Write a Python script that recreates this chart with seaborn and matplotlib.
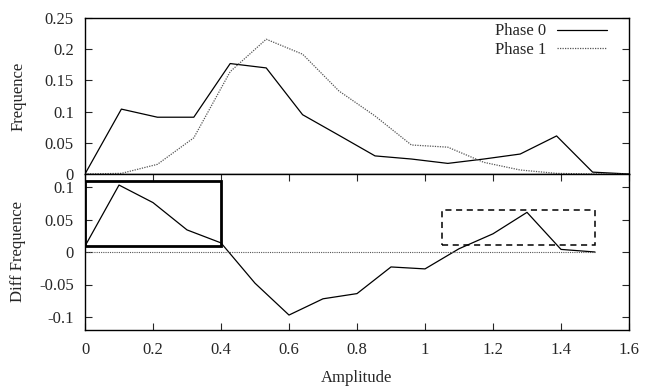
import matplotlib
matplotlib.use("Agg")
import matplotlib.pyplot as plt
import matplotlib.patches as patches
from matplotlib.ticker import FixedLocator, FixedFormatter
import seaborn as sns
import pandas as pd

sns.set_style("ticks")
plt.rcParams['font.family'] = ['Liberation Serif', 'DejaVu Serif']

# Top panel: frequency per amplitude bin
amp_phase = [0, 0.107, 0.213, 0.32, 0.427, 0.533, 0.64, 0.747, 0.853, 0.96,
             1.067, 1.173, 1.28, 1.387, 1.493, 1.6]
phase0 = [0, 0.104, 0.091, 0.091, 0.177, 0.170, 0.095, 0.062, 0.029, 0.024,
          0.017, 0.024, 0.032, 0.061, 0.003, 0]
phase1 = [0, 0.001, 0.0155, 0.058, 0.164, 0.216, 0.192, 0.133, 0.093, 0.0465,
          0.043, 0.0187, 0.0064, 0.001, 0, 0]

# Bottom panel: difference of frequencies
amp_diff = [0, 0.1, 0.2, 0.3, 0.4, 0.5, 0.6, 0.7, 0.8, 0.9, 1.0, 1.1, 1.2, 1.3, 1.4, 1.5]
diff = [0.009, 0.103, 0.076, 0.034, 0.014, -0.048, -0.097, -0.072, -0.064, -0.023,
        -0.026, 0.005, 0.028, 0.061, 0.004, 0.0]
zero_line = [0] * len(amp_diff)

# Highlight boxes (x0, x1, y0, y1)
box_solid = (0, 0.4, 0.01, 0.109)
box_dashed = (1.05, 1.5, 0.0103, 0.0646)

x_ticks = [0, 0.2, 0.4, 0.6, 0.8, 1, 1.2, 1.4, 1.6]
x_labels = ["0", "0.2", "0.4", "0.6", "0.8", "1", "1.2", "1.4", "1.6"]
top_ticks = [0, 0.05, 0.1, 0.15, 0.2, 0.25]
top_labels = ["0", "0.05", "0.1", "0.15", "0.2", "0.25"]
bot_ticks = [-0.1, -0.05, 0, 0.05, 0.1]
bot_labels = ["-0.1", "-0.05", "0", "0.05", "0.1"]

top_df = pd.DataFrame({"Amplitude": amp_phase * 2,
                       "Frequence": phase0 + phase1,
                       "serie": ["Phase 0"] * len(phase0) + ["Phase 1"] * len(phase1)})
diff_df = pd.DataFrame({"Amplitude": amp_diff, "Diff": diff, "Zero": zero_line})

fig = plt.figure(figsize=(6.46, 3.86), dpi=100)
ax1 = fig.add_axes([85 / 646, 1 - 174 / 386, 544 / 646, 156 / 386])
ax2 = fig.add_axes([85 / 646, 1 - 330 / 386, 544 / 646, 156 / 386])

fs = 12

# top panel
sns.lineplot(data=top_df[top_df.serie == "Phase 0"], x="Amplitude", y="Frequence",
             ax=ax1, color="black", lw=0.9, label="Phase 0")
sns.lineplot(data=top_df[top_df.serie == "Phase 1"], x="Amplitude", y="Frequence",
             ax=ax1, color="#555555", lw=0.9, linestyle=(0, (1, 1)), label="Phase 1")
ax1.set_xlim(0, 1.6)
ax1.set_ylim(0, 0.25)
ax1.yaxis.set_major_locator(FixedLocator(top_ticks))
ax1.yaxis.set_major_formatter(FixedFormatter(top_labels))
ax1.set_xticks([])
ax1.set_xlabel("")
ax1.set_ylabel("Frequence", fontsize=fs)
ax1.tick_params(axis="y", direction="in", left=True, right=True, length=5,
                labelsize=fs, width=0.8, pad=8)
leg = ax1.legend(loc="upper right", frameon=False, markerfirst=False, fontsize=fs,
                 handlelength=3.0, handletextpad=0.65, labelspacing=0.15,
                 borderpad=0, borderaxespad=0, bbox_to_anchor=(0.96, 0.965))

# bottom panel
sns.lineplot(data=diff_df, x="Amplitude", y="Diff", ax=ax2, color="black", lw=0.9)
sns.lineplot(data=diff_df, x="Amplitude", y="Zero", ax=ax2, color="#555555",
             lw=0.8, linestyle=(0, (1, 1)))
ax2.set_xlim(0, 1.6)
ax2.set_ylim(-0.12, 0.12)
ax2.xaxis.set_major_locator(FixedLocator(x_ticks))
ax2.xaxis.set_major_formatter(FixedFormatter(x_labels))
ax2.yaxis.set_major_locator(FixedLocator(bot_ticks))
ax2.yaxis.set_major_formatter(FixedFormatter(bot_labels))
ax2.tick_params(direction="in", left=True, right=True, top=True, bottom=True,
                length=5, labelsize=fs, width=0.8, pad=8)
ax2.tick_params(axis="x", pad=9)
ax2.set_xlabel("Amplitude", fontsize=fs, labelpad=8)
ax2.set_ylabel("Diff Frequence", fontsize=fs)

x0, x1, y0, y1 = box_solid
ax2.add_patch(patches.Rectangle((x0, y0), x1 - x0, y1 - y0, fill=False,
                                edgecolor="black", lw=2.0))
x0, x1, y0, y1 = box_dashed
ax2.add_patch(patches.Rectangle((x0, y0), x1 - x0, y1 - y0, fill=False,
                                edgecolor="black", lw=1.1, linestyle=(0, (4, 3))))

for ax in (ax1, ax2):
    for s in ax.spines.values():
        s.set_linewidth(1.0)
        s.set_color("black")
    ax.yaxis.set_label_coords(-0.108, 0.5)

fig.savefig("out.png", dpi=100)
